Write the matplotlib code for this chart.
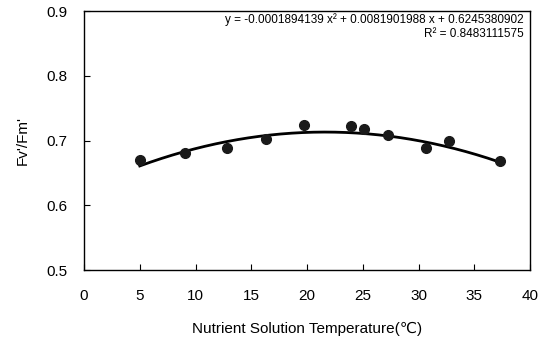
import numpy as np
import matplotlib
matplotlib.use("Agg")
import matplotlib.pyplot as plt

plt.rcParams["font.family"] = ["Liberation Sans", "DejaVu Sans"]

# measured points
temp = [5.0, 9.1, 12.8, 16.3, 19.7, 23.9, 25.1, 27.3, 30.7, 32.7, 37.3]
fv_fm = [0.670, 0.681, 0.689, 0.702, 0.724, 0.723, 0.718, 0.709, 0.688, 0.700, 0.668]

# trendline coefficients as printed on the chart
coef = [-0.0001894139, 0.0081901988, 0.6245380902]
r2 = 0.8483111575

fig = plt.figure(figsize=(5.47, 3.43), dpi=100)
ax = fig.add_axes([0.1536, 0.2128, 0.8154, 0.755])

xs = np.linspace(min(temp), max(temp), 200)
ax.plot(xs, np.polyval(coef, xs), color="black", lw=2.0, zorder=2)
ax.plot(temp, fv_fm, "o", color="#1a1a1a", ms=7, zorder=3)

ax.set_xlim(0, 40)
ax.set_ylim(0.5, 0.9)
ax.set_xticks(np.arange(0, 41, 5))
ax.set_yticks([0.5, 0.6, 0.7, 0.8, 0.9])
ax.set_yticklabels(["0.5", "0.6", "0.7", "0.8", "0.9"])
ax.tick_params(direction="in", length=4, labelsize=11)
ax.tick_params(axis="x", pad=14)
ax.tick_params(axis="y", pad=12)
for s in ax.spines.values():
    s.set_linewidth(1.0)

ax.set_xlabel("Nutrient Solution Temperature(℃)", fontsize=11, labelpad=13)
ax.set_ylabel("Fv'/Fm'", fontsize=11, labelpad=12)

ax.text(0.985, 0.967,
        "y = %.10f x² + %.10f x + %.10f" % tuple(coef),
        transform=ax.transAxes, ha="right", va="center", fontsize=8.5)
ax.text(0.985, 0.912, "R² = %.10f" % r2,
        transform=ax.transAxes, ha="right", va="center", fontsize=8.5)

fig.savefig("out.png", dpi=100)
